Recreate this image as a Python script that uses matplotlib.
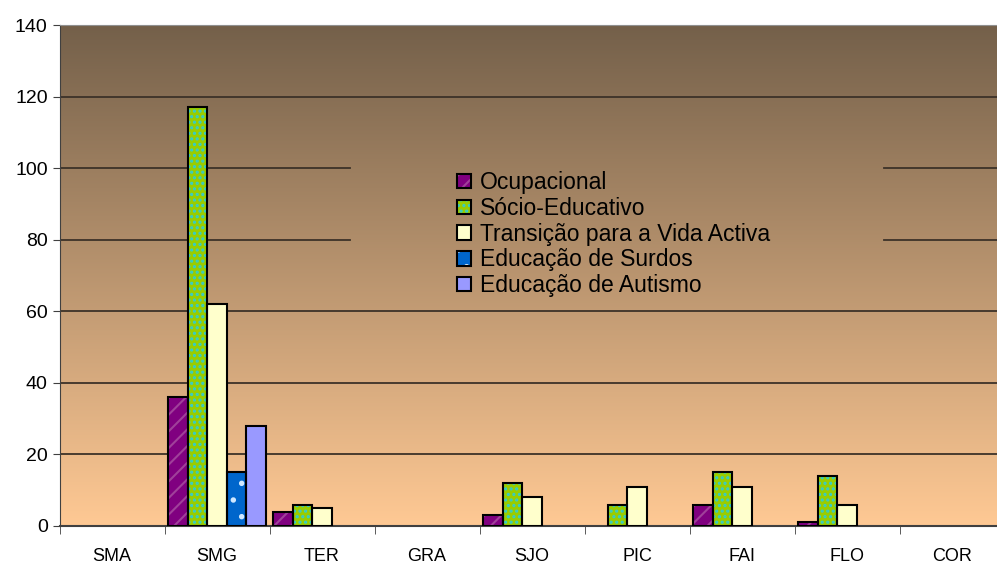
import numpy as np
import matplotlib.pyplot as plt
from matplotlib.colors import LinearSegmentedColormap
from matplotlib.patches import Patch

# dados
categorias = ['SMA', 'SMG', 'TER', 'GRA', 'SJO', 'PIC', 'FAI', 'FLO', 'COR']
series = ['Ocupacional', 'Sócio-Educativo', 'Transição para a Vida Activa',
          'Educação de Surdos', 'Educação de Autismo']
ocupacional = [0, 36, 4, 0, 3, 0, 6, 1, 0]
socio_educativo = [0, 117, 6, 0, 12, 6, 15, 14, 0]
transicao = [0, 62, 5, 0, 8, 11, 11, 6, 0]
surdos = [0, 15, 0, 0, 0, 0, 0, 0, 0]
autismo = [0, 28, 0, 0, 0, 0, 0, 0, 0]
valores = [ocupacional, socio_educativo, transicao, surdos, autismo]

# estilo de cada serie: cor, padrao, cor do padrao
cores = ['#800080', '#99cc00', '#ffffcc', '#0066cc', '#9999ff']
padroes = ['//', '...', '', '.', '']
cores_padrao = ['#a0409a', '#33cccc', '#ffffcc', '#d0e8ff', '#9999ff']

plt.rcParams['font.family'] = ['Liberation Sans', 'DejaVu Sans']
plt.rcParams['hatch.linewidth'] = 1.5

fig = plt.figure(figsize=(9.97, 5.67), dpi=100)
ax = fig.add_axes([59.5/997, 1-526/567, 945/997, 501/567])

# fundo em gradiente
grad = LinearSegmentedColormap.from_list('fundo', ['#ffc994', '#74604a'])
ax.imshow(np.linspace(0, 1, 256).reshape(-1, 1), cmap=grad, aspect='auto',
          origin='lower', extent=[0, 1, 0, 1], transform=ax.transAxes, zorder=0)

x = np.arange(len(categorias))
w = 0.185
for i, vals in enumerate(valores):
    v = np.array(vals)
    idx = v > 0
    pos = x[idx] + (i - 2) * w
    ax.bar(pos, v[idx], w, color=cores[i], edgecolor=cores_padrao[i],
           hatch=padroes[i], linewidth=0, zorder=3)
    ax.bar(pos, v[idx], w, fill=False, edgecolor='black', linewidth=1.5, zorder=4)

ax.set_xlim(-0.5, len(categorias) - 0.5)
ax.set_ylim(0, 140)

# linhas de grade (interrompidas atras da legenda)
gap = (0.307, 0.873)
for yv in range(20, 140, 20):
    if yv in (80, 100):
        ax.axhline(yv, 0, gap[0], color='#3c3228', lw=1.3, zorder=1)
        ax.axhline(yv, gap[1], 1, color='#3c3228', lw=1.3, zorder=1)
    else:
        ax.axhline(yv, color='#3c3228', lw=1.3, zorder=1)

ax.set_yticks(range(0, 141, 20))
ax.set_xticks(x)
ax.set_xticklabels(categorias)
ax.set_xticks(np.arange(len(categorias) + 1) - 0.5, minor=True)
ax.tick_params(axis='x', which='major', length=0, pad=16, labelsize=13)
ax.tick_params(axis='x', which='minor', length=6, direction='out', color='#404040')
ax.tick_params(axis='y', length=5, direction='out', labelsize=14, color='#404040')

ax.spines['right'].set_visible(False)
ax.spines['top'].set_color('#909090')
ax.spines['left'].set_color('#404040')
ax.spines['bottom'].set_color('#404040')
ax.spines['bottom'].set_linewidth(1.5)

handles = []
for i in range(len(series)):
    handles.append((Patch(facecolor=cores[i], edgecolor=cores_padrao[i], hatch=padroes[i], linewidth=0),
                    Patch(fill=False, edgecolor='black', linewidth=1.5)))
fig.legend(handles, series, loc='upper left', bbox_to_anchor=(448/997, 1-162/567),
           frameon=False, fontsize=16.5, handlelength=0.6, handleheight=0.6,
           handletextpad=0.4, labelspacing=0.12, borderaxespad=0)

fig.savefig('out.png', dpi=100)
